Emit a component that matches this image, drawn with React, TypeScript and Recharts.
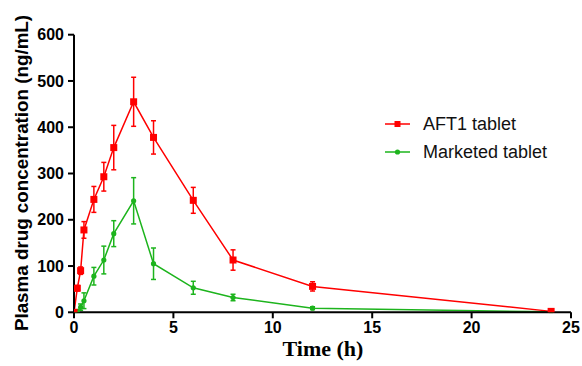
import React from "react";
import { LineChart, Line, XAxis, YAxis, ErrorBar } from "recharts";

const times = [0, 0.167, 0.333, 0.5, 1, 1.5, 2, 3, 4, 6, 8, 12, 24];
const aftValues = [0, 52, 90, 178, 244, 293, 356, 455, 378, 242, 113, 56, 2];
const aftErrors = [0, 6, 8, 18, 28, 31, 48, 53, 36, 28, 22, 10, 2];
const mktValues = [0, 2, 11, 25, 78, 113, 170, 241, 105, 53, 32, 9, 1];
const mktErrors = [0, 2, 7, 17, 19, 30, 28, 50, 34, 14, 7, 3, 1];
const xTicks = [0, 5, 10, 15, 20, 25];
const yTicks = [0, 100, 200, 300, 400, 500, 600];
const seriesNames = ["AFT1 tablet", "Marketed tablet"];

const RED = "#ff0000";
const GREEN = "#1db41d";

const data = times.map((t, i) => ({
  t,
  aft: aftValues[i],
  aftErr: aftErrors[i],
  mkt: mktValues[i],
  mktErr: mktErrors[i],
}));

const tickStyle = {
  fontFamily: "'Liberation Sans', Arial, sans-serif",
  fontWeight: 700,
  fontSize: 16,
  fill: "#000",
};

const SquareDot = (props: any) => {
  const { cx, cy, index } = props;
  if (cx == null || cy == null) return <g key={"s" + index} />;
  return <rect key={"s" + index} x={cx - 3.5} y={cy - 3.5} width={7} height={7} fill={RED} />;
};

const RoundDot = (props: any) => {
  const { cx, cy, index } = props;
  if (cx == null || cy == null) return <g key={"c" + index} />;
  return <circle key={"c" + index} cx={cx} cy={cy} r={2.6} fill={GREEN} />;
};

export default function App() {
  const legendX = 385;
  const legendY = [124, 152];
  const legendTextStyle = { fontFamily: "'Liberation Sans', Arial, sans-serif", fontSize: 18, fill: "#111" };
  return (
    <div style={{ position: "absolute", left: 0, top: 0, width: 582, height: 366, background: "#fff" }}>
      <LineChart
        width={582}
        height={366}
        data={data}
        margin={{ top: 34.7, right: 11, bottom: 23.7, left: 0 }}
      >
        <XAxis
          dataKey="t"
          type="number"
          domain={[0, 25]}
          ticks={xTicks}
          height={30}
          tick={tickStyle}
          tickSize={6}
          tickMargin={3}
          axisLine={{ stroke: "#000", strokeWidth: 2 }}
          tickLine={{ stroke: "#000", strokeWidth: 2 }}
          allowDataOverflow
        />
        <YAxis
          type="number"
          domain={[0, 600]}
          ticks={yTicks}
          width={74}
          tick={tickStyle}
          tickSize={6}
          tickMargin={4}
          axisLine={{ stroke: "#000", strokeWidth: 2 }}
          tickLine={{ stroke: "#000", strokeWidth: 2 }}
          allowDataOverflow
        />
        <Line
          dataKey="mkt"
          stroke={GREEN}
          strokeWidth={1.5}
          dot={<RoundDot />}
          activeDot={false}
          isAnimationActive={false}
          name={seriesNames[1]}
        >
          <ErrorBar dataKey="mktErr" direction="y" width={2.5} stroke={GREEN} strokeWidth={1.5} />
        </Line>
        <Line
          dataKey="aft"
          stroke={RED}
          strokeWidth={1.5}
          dot={<SquareDot />}
          activeDot={false}
          isAnimationActive={false}
          name={seriesNames[0]}
        >
          <ErrorBar dataKey="aftErr" direction="y" width={2.5} stroke={RED} strokeWidth={1.5} />
        </Line>
        <g>
          <line x1={legendX} y1={legendY[0]} x2={legendX + 25} y2={legendY[0]} stroke={RED} strokeWidth={1.5} />
          <rect x={legendX + 9.5} y={legendY[0] - 3} width={6} height={6} fill={RED} />
          <text x={legendX + 38} y={legendY[0]} dominantBaseline="central" style={legendTextStyle}>
            {seriesNames[0]}
          </text>
          <line x1={legendX} y1={legendY[1]} x2={legendX + 25} y2={legendY[1]} stroke={GREEN} strokeWidth={1.5} />
          <circle cx={legendX + 12.5} cy={legendY[1]} r={2.6} fill={GREEN} />
          <text x={legendX + 38} y={legendY[1]} dominantBaseline="central" style={legendTextStyle}>
            {seriesNames[1]}
          </text>
        </g>
        <text
          x={21}
          y={173}
          transform="rotate(-90 21 173)"
          textAnchor="middle"
          dominantBaseline="central"
          style={{ fontFamily: "'Liberation Sans', Arial, sans-serif", fontWeight: 700, fontSize: 18.8, fill: "#000" }}
        >
          Plasma drug concentration (ng/mL)
        </text>
        <text
          x={323}
          y={356}
          textAnchor="middle"
          style={{ fontFamily: "'Liberation Serif', 'Times New Roman', serif", fontWeight: 700, fontSize: 22, fill: "#000" }}
        >
          Time (h)
        </text>
      </LineChart>
    </div>
  );
}
